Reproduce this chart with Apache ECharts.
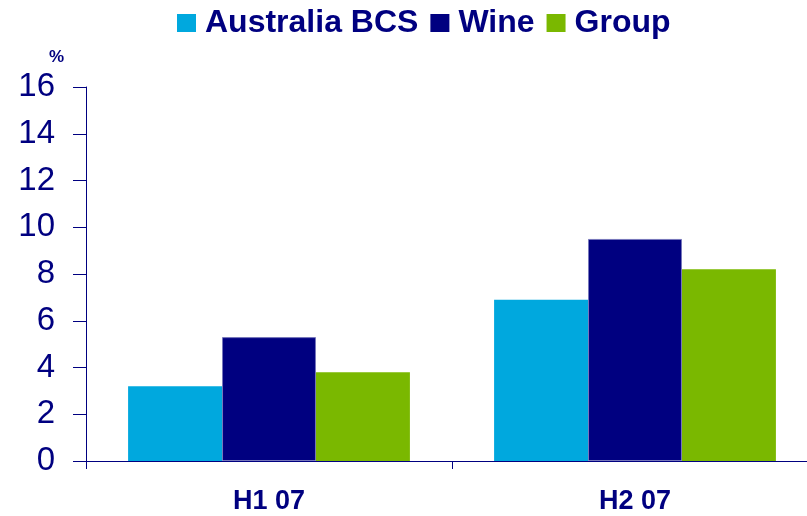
<!DOCTYPE html>
<html>
<head>
<meta charset="utf-8">
<script src="https://cdn.jsdelivr.net/npm/echarts@6/dist/echarts.min.js"></script>
<style>
  html, body { margin: 0; padding: 0; background: #ffffff; overflow: hidden; }
  /* plot runs slightly past the right edge of the page, so the canvas is a bit wider */
  #chart { width: 818px; height: 516px; }
</style>
</head>
<body>
<div id="chart"></div>
<script>
// Half-year periods and growth (%) per business
const categories = ['H1 07', 'H2 07'];
const australiaBCS = [3.2, 6.9];
const wine = [5.3, 9.5];
const group = [3.8, 8.2];
const yTicks = { min: 0, max: 16, interval: 2 };

const NAVY = '#000080';
const FONT = '"Liberation Sans", Arial, Helvetica, sans-serif';

const chart = echarts.init(document.getElementById('chart'), null, { renderer: 'canvas' });

chart.setOption({
  animation: false,
  backgroundColor: '#ffffff',
  textStyle: { fontFamily: FONT, color: NAVY },
  legend: {
    left: 172,
    top: 2,
    icon: 'rect',
    itemWidth: 19,
    itemHeight: 18,
    itemGap: 12,
    itemStyle: { borderWidth: 0 },
    textStyle: {
      fontFamily: FONT,
      fontWeight: 'bold',
      fontSize: 32,
      color: NAVY,
      padding: [0, 0, 0, 4]
    },
    data: ['Australia BCS', 'Wine', 'Group']
  },
  graphic: [{
    type: 'text',
    left: 49,
    top: 49,
    style: {
      text: '%',
      font: 'bold 17px ' + FONT,
      fill: NAVY
    }
  }],
  grid: {
    left: 86,
    right: 0,
    top: 87,
    bottom: 55,
    containLabel: false
  },
  xAxis: {
    type: 'category',
    data: categories,
    axisLine: { lineStyle: { color: NAVY, width: 1 } },
    axisTick: { show: true, length: 8, lineStyle: { color: NAVY } },
    axisLabel: {
      margin: 27,
      fontFamily: FONT,
      fontWeight: 'bold',
      fontSize: 27,
      color: NAVY
    },
    splitLine: { show: false }
  },
  yAxis: {
    type: 'value',
    min: yTicks.min,
    max: yTicks.max,
    interval: yTicks.interval,
    axisLine: { show: true, lineStyle: { color: NAVY, width: 1 } },
    axisTick: { show: true, length: 13, lineStyle: { color: NAVY } },
    axisLabel: {
      margin: 31,
      fontFamily: FONT,
      fontSize: 33,
      color: NAVY
    },
    splitLine: { show: false }
  },
  series: [
    {
      name: 'Australia BCS',
      type: 'bar',
      data: australiaBCS,
      barGap: '0%',
      barCategoryGap: '23%',
      itemStyle: { color: '#00A8DE' }
    },
    {
      name: 'Wine',
      type: 'bar',
      data: wine,
      barGap: '0%',
      barCategoryGap: '23%',
      itemStyle: { color: NAVY, borderColor: '#7777bb', borderWidth: 1 }
    },
    {
      name: 'Group',
      type: 'bar',
      data: group,
      barGap: '0%',
      barCategoryGap: '23%',
      itemStyle: { color: '#7AB800' }
    }
  ]
});
</script>
</body>
</html>
